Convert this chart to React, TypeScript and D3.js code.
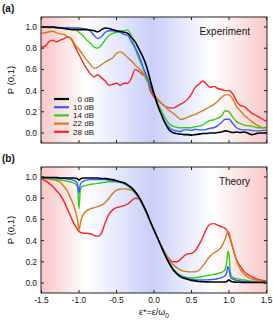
import React from 'react';
import * as d3 from 'd3';

// ---- data ----
const xExp = [
  -1.5, -1.45, -1.4, -1.35, -1.3, -1.25, -1.2, -1.15, -1.1, -1.05, -1.0,
  -0.95, -0.9, -0.85, -0.8, -0.75, -0.7, -0.65, -0.6, -0.55, -0.5,
  -0.45, -0.4, -0.35, -0.3, -0.25, -0.2, -0.15, -0.1, -0.05, 0.0,
  0.05, 0.1, 0.15, 0.2, 0.25, 0.3, 0.35, 0.4, 0.45, 0.5,
  0.55, 0.6, 0.65, 0.7, 0.75, 0.8, 0.85, 0.9, 0.95, 1.0,
  1.05, 1.1, 1.15, 1.2, 1.25, 1.3, 1.35, 1.4, 1.45, 1.5,
];
const exp0dB = [
  1.0, 1.0, 1.0, 1.0, 0.995, 0.99, 0.985, 0.98, 0.975, 0.975, 0.975,
  0.975, 0.975, 0.97, 0.965, 0.955, 0.975, 0.99, 0.985, 0.975, 0.965,
  0.96, 0.95, 0.94, 0.9, 0.86, 0.79, 0.72, 0.63, 0.5, 0.37,
  0.26, 0.17, 0.09, 0.03, 0.005, -0.005, -0.01, -0.015, -0.015, -0.02,
  -0.015, -0.01, -0.005, -0.005, 0.0, 0.0, 0.005, 0.01, 0.02, 0.015,
  0.005, 0.01, 0.005, 0.01, 0.0, -0.015, -0.01, 0.0, 0.0, 0.005,
];
const exp10dB = [
  1.0, 1.0, 0.995, 1.0, 0.995, 0.995, 0.99, 0.995, 0.99, 0.99, 0.99,
  0.985, 0.98, 0.965, 0.92, 0.89, 0.91, 0.95, 0.965, 0.965, 0.96,
  0.95, 0.93, 0.92, 0.86, 0.8, 0.73, 0.63, 0.54, 0.45, 0.36,
  0.26, 0.18, 0.1, 0.055, 0.03, 0.02, 0.015, 0.03, 0.03, 0.025,
  0.035, 0.03, 0.03, 0.035, 0.045, 0.05, 0.07, 0.1, 0.13, 0.13,
  0.09, 0.05, 0.035, 0.03, 0.03, 0.025, 0.02, 0.02, 0.025, 0.025,
];
const exp14dB = [
  1.0, 1.0, 0.995, 0.995, 0.99, 0.99, 0.99, 0.985, 0.98, 0.975, 0.95,
  0.92, 0.88, 0.85, 0.81, 0.8, 0.83, 0.88, 0.92, 0.94, 0.95,
  0.955, 0.965, 0.97, 0.91, 0.8, 0.7, 0.62, 0.52, 0.44, 0.36,
  0.28, 0.21, 0.14, 0.09, 0.065, 0.055, 0.05, 0.05, 0.05, 0.05,
  0.06, 0.065, 0.075, 0.1, 0.12, 0.125, 0.14, 0.16, 0.21, 0.2,
  0.15, 0.11, 0.09, 0.075, 0.07, 0.065, 0.055, 0.05, 0.05, 0.05,
];
const exp22dB = [
  0.94, 0.945, 0.955, 0.96, 0.945, 0.935, 0.93, 0.91, 0.89, 0.83, 0.79,
  0.74, 0.69, 0.65, 0.61, 0.62, 0.645, 0.67, 0.69, 0.71, 0.75,
  0.765, 0.745, 0.71, 0.68, 0.64, 0.61, 0.57, 0.5, 0.44, 0.37,
  0.32, 0.28, 0.25, 0.215, 0.19, 0.16, 0.13, 0.135, 0.15, 0.165,
  0.175, 0.195, 0.21, 0.23, 0.25, 0.27, 0.3, 0.335, 0.36, 0.36,
  0.32, 0.25, 0.21, 0.17, 0.14, 0.11, 0.085, 0.065, 0.05, 0.055,
];
const exp28dB = [
  0.81, 0.82, 0.86, 0.875, 0.86, 0.875, 0.89, 0.905, 0.88, 0.81, 0.74,
  0.67, 0.61, 0.56, 0.53, 0.55, 0.52, 0.49, 0.45, 0.46, 0.47,
  0.45, 0.47, 0.47, 0.52, 0.6, 0.58, 0.55, 0.53, 0.4, 0.34,
  0.31, 0.28, 0.25, 0.24, 0.235, 0.25, 0.27, 0.29, 0.32, 0.37,
  0.43, 0.46, 0.49, 0.46, 0.43, 0.44, 0.42, 0.41, 0.4, 0.4,
  0.37, 0.3, 0.26, 0.25, 0.22, 0.19, 0.17, 0.15, 0.13, 0.11,
];

const xThy = [
  -1.5, -1.45, -1.4, -1.35, -1.3, -1.25, -1.2, -1.15, -1.1,
  -1.06, -1.03, -1.015, -1.0, -0.985, -0.97, -0.94,
  -0.9, -0.85, -0.8, -0.75, -0.7, -0.65, -0.6, -0.55, -0.5, -0.45, -0.4, -0.35,
  -0.3, -0.25, -0.2, -0.15, -0.1, -0.05, 0, 0.05, 0.1, 0.15, 0.2, 0.25, 0.3,
  0.35, 0.4, 0.45, 0.5, 0.55, 0.6, 0.65, 0.7, 0.75, 0.8, 0.85, 0.9,
  0.94, 0.97, 0.985, 1.0, 1.015, 1.03, 1.06,
  1.1, 1.15, 1.2, 1.25, 1.3, 1.35, 1.4, 1.45, 1.5,
];
const thy0dB = [
  0.995, 0.995, 0.995, 0.995, 0.995, 0.99, 0.99, 0.99, 0.99,
  0.99, 0.985, 0.98, 0.97, 0.98, 0.985, 0.99,
  0.99, 0.99, 0.99, 0.99, 0.985, 0.985, 0.98, 0.975, 0.965, 0.955, 0.945, 0.925,
  0.9, 0.86, 0.81, 0.745, 0.67, 0.58, 0.5, 0.42, 0.34, 0.26, 0.19, 0.13, 0.09,
  0.06, 0.045, 0.035, 0.025, 0.02, 0.015, 0.013, 0.011, 0.01, 0.01, 0.01, 0.01,
  0.01, 0.015, 0.022, 0.03, 0.022, 0.015, 0.01,
  0.008, 0.007, 0.006, 0.005, 0.005, 0.005, 0.005, 0.005, 0.005,
];
const thy10dB = [
  0.995, 0.995, 0.99, 0.99, 0.99, 0.985, 0.985, 0.98, 0.975,
  0.965, 0.95, 0.92, 0.85, 0.92, 0.945, 0.96,
  0.97, 0.975, 0.975, 0.975, 0.975, 0.975, 0.97, 0.965, 0.96, 0.95, 0.94, 0.92,
  0.895, 0.855, 0.805, 0.74, 0.665, 0.58, 0.5, 0.42, 0.34, 0.26, 0.19, 0.135, 0.095,
  0.065, 0.05, 0.04, 0.033, 0.03, 0.03, 0.03, 0.03, 0.032, 0.035, 0.04, 0.05,
  0.065, 0.1, 0.155, 0.13, 0.07, 0.045, 0.035,
  0.025, 0.02, 0.015, 0.012, 0.01, 0.008, 0.007, 0.006, 0.005,
];
const thy14dB = [
  0.995, 0.99, 0.985, 0.98, 0.975, 0.97, 0.965, 0.96, 0.95,
  0.94, 0.92, 0.88, 0.7, 0.86, 0.9, 0.915,
  0.92, 0.93, 0.935, 0.94, 0.945, 0.95, 0.955, 0.955, 0.955, 0.95, 0.935, 0.915,
  0.89, 0.85, 0.8, 0.735, 0.66, 0.58, 0.5, 0.42, 0.34, 0.265, 0.195, 0.14, 0.1,
  0.075, 0.06, 0.052, 0.048, 0.05, 0.055, 0.062, 0.07, 0.075, 0.082, 0.09, 0.1,
  0.12, 0.2, 0.3, 0.27, 0.12, 0.07, 0.05,
  0.042, 0.035, 0.028, 0.022, 0.017, 0.013, 0.01, 0.008, 0.006,
];
const thy22dB = [
  0.99, 0.985, 0.98, 0.975, 0.965, 0.95, 0.91, 0.86, 0.78,
  0.71, 0.63, 0.57, 0.5, 0.55, 0.6, 0.65,
  0.68, 0.7, 0.71, 0.72, 0.735, 0.76, 0.8, 0.845, 0.875, 0.885, 0.888, 0.885,
  0.875, 0.845, 0.795, 0.735, 0.66, 0.58, 0.5, 0.42, 0.345, 0.28, 0.22, 0.175, 0.145,
  0.125, 0.112, 0.107, 0.105, 0.106, 0.12, 0.16, 0.21, 0.255, 0.285, 0.305, 0.34,
  0.4, 0.46, 0.485, 0.475, 0.44, 0.39, 0.31,
  0.21, 0.13, 0.085, 0.055, 0.04, 0.03, 0.022, 0.016, 0.012,
];
const thy28dB = [
  0.985, 0.965, 0.94, 0.91, 0.87, 0.83, 0.77, 0.69, 0.61,
  0.55, 0.515, 0.5, 0.485, 0.48, 0.475, 0.47,
  0.47, 0.465, 0.45, 0.44, 0.47, 0.57, 0.65, 0.69, 0.71, 0.72, 0.73, 0.745,
  0.775, 0.8, 0.795, 0.74, 0.66, 0.58, 0.5, 0.42, 0.345, 0.28, 0.23, 0.2, 0.2,
  0.22, 0.255, 0.275, 0.28, 0.305, 0.36, 0.43, 0.51, 0.555, 0.56, 0.545, 0.53,
  0.52, 0.5, 0.475, 0.45, 0.415, 0.38, 0.31,
  0.22, 0.16, 0.11, 0.08, 0.06, 0.045, 0.032, 0.024, 0.018,
];

const seriesNames = ['0 dB', '10 dB', '14 dB', '22 dB', '28 dB'];
const seriesColors = ['#000000', '#3060ff', '#33cc22', '#cc7f1f', '#ff2020'];
const xTicks = [-1.5, -1.0, -0.5, 0.0, 0.5, 1.0, 1.5];
const yTicks = [0.0, 0.2, 0.4, 0.6, 0.8, 1.0];

const W = 273;
const H = 324;
const left = 41;
const right = 267;
const font = 'Arial, "Liberation Sans", sans-serif';
const ink = '#111';

const x = d3.scaleLinear().domain([-1.5, 1.5]).range([left + 0.5, right - 0.5]);

const Panel = ({ top, bottom, id, xs, series, label, name, showXLabels, showLegend }) => {
  const y = d3.scaleLinear().domain([-0.094, 1.094]).range([bottom, top]);
  const line = d3.line().x((d) => x(d[0])).y((d) => y(d[1])).curve(d3.curveMonotoneX);
  const mid = (top + bottom) / 2;
  return (
    <g>
      <defs>
        <linearGradient id={id} x1="0" x2="1" y1="0" y2="0">
          <stop offset="0" stopColor="#f9c6c6" />
          <stop offset="0.2" stopColor="#ffffff" />
          <stop offset="0.49" stopColor="#c9cff8" />
          <stop offset="0.76" stopColor="#ffffff" />
          <stop offset="1" stopColor="#f9c8c8" />
        </linearGradient>
        <clipPath id={id + '-clip'}>
          <rect x={left} y={top} width={right - left} height={bottom - top} />
        </clipPath>
      </defs>
      <rect x={left} y={top} width={right - left} height={bottom - top} fill={`url(#${id})`} />
      <g clipPath={`url(#${id}-clip)`}>
        {series.map((s, i) => (
          <path
            key={i}
            d={line(xs.map((v, j) => [v, s[j]]))}
            fill="none"
            stroke={seriesColors[i]}
            strokeWidth={i === 0 ? 1.6 : 1.4}
            strokeLinejoin="round"
          />
        )).reverse()}
      </g>
      <rect x={left} y={top} width={right - left} height={bottom - top} fill="none" stroke="#222" strokeWidth={1} />
      {yTicks.map((t) => (
        <g key={'y' + t}>
          <line x1={left} x2={left + 3} y1={y(t)} y2={y(t)} stroke="#222" />
          <line x1={right - 3} x2={right} y1={y(t)} y2={y(t)} stroke="#222" />
          <text x={left - 4} y={y(t)} dy="0.35em" textAnchor="end" fontSize={8.3} fontFamily={font} fill={ink}>
            {t.toFixed(1)}
          </text>
        </g>
      ))}
      {xTicks.map((t) => (
        <g key={'x' + t}>
          <line x1={x(t)} x2={x(t)} y1={top} y2={top + 3} stroke="#222" />
          <line x1={x(t)} x2={x(t)} y1={bottom - 3} y2={bottom} stroke="#222" />
          {showXLabels && (
            <text x={x(t)} y={bottom + 10} textAnchor="middle" fontSize={8.3} fontFamily={font} fill={ink}>
              {t.toFixed(1)}
            </text>
          )}
        </g>
      ))}
      <text
        transform={`translate(14,${mid}) rotate(-90)`}
        textAnchor="middle"
        fontSize={9.5}
        fontFamily={font}
        fill={ink}
      >
        P (0,1)
      </text>
      <text x={2} y={top - 5} fontSize={10} fontWeight="bold" fontFamily={font} fill={ink}>
        {label}
      </text>
      <text x={250} y={top + 17.5} textAnchor="end" fontSize={10} fontFamily={font} fill={ink}>
        {name}
      </text>
      {showLegend &&
        seriesNames.map((n, i) => (
          <g key={n}>
            <line x1={54} x2={69} y1={99 + i * 8.2} y2={99 + i * 8.2} stroke={seriesColors[i]} strokeWidth={2.2} />
            <text x={94} y={99 + i * 8.2} dy="0.35em" textAnchor="end" fontSize={8} fontFamily={font} fill={ink}>
              {n}
            </text>
          </g>
        ))}
    </g>
  );
};

export default function App() {
  return (
    <svg width={W} height={H} style={{ position: 'absolute', left: 0, top: 0, background: '#fff' }}>
      <Panel
        top={17}
        bottom={143}
        id="ga"
        xs={xExp}
        series={[exp0dB, exp10dB, exp14dB, exp22dB, exp28dB]}
        label="(a)"
        name="Experiment"
        showXLabels={false}
        showLegend={true}
      />
      <Panel
        top={167}
        bottom={293}
        id="gb"
        xs={xThy}
        series={[thy0dB, thy10dB, thy14dB, thy22dB, thy28dB]}
        label="(b)"
        name="Theory"
        showXLabels={true}
        showLegend={false}
      />
      <text x={154} y={315} textAnchor="middle" fontSize={9} fontFamily={font} fill={ink}>
        ε*=ε/ω<tspan fontSize={6.5} dy={2.5}>0</tspan>
      </text>
    </svg>
  );
}
